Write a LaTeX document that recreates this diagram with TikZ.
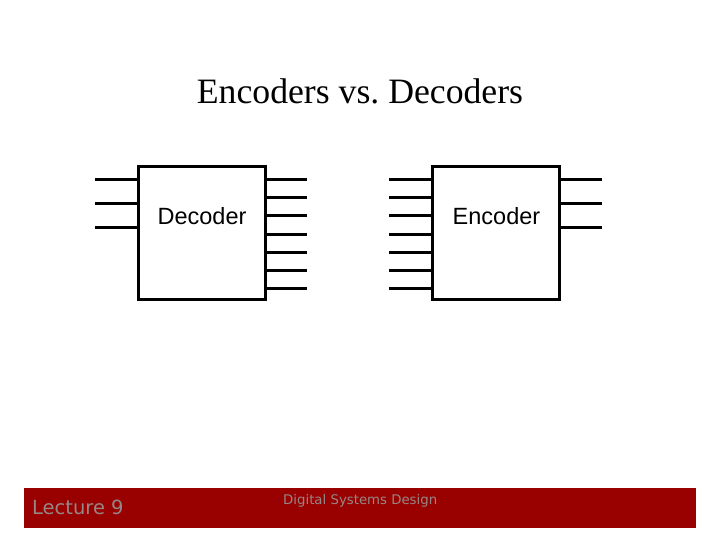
\documentclass[tikz,border=0pt]{standalone}
\usepackage{fontspec}
\setmainfont{Liberation Serif}
\newfontfamily\arialfont{Liberation Sans}
\newfontfamily\footfont{DejaVu Sans}
\definecolor{barred}{RGB}{153,0,0}
\definecolor{footgray}{RGB}{150,135,135}
\begin{document}
\begin{tikzpicture}[x=1pt,y=-1pt,
  blockbox/.style={draw=black,line width=3pt,fill=white,minimum width=127pt,minimum height=132pt,inner sep=0pt},
  pin/.style={draw=black,line width=3pt},
  blocklabel/.style={font=\arialfont\fontsize{23.5}{26}\selectfont,anchor=base,inner sep=0pt},
  foot/.style={text=footgray,inner sep=0pt,anchor=base west}]
\useasboundingbox (0,0) rectangle (720,540);
\fill[white] (0,0) rectangle (720,540);
\node[font=\fontsize{35.7}{40}\selectfont,anchor=base,inner sep=0pt] (title) at (360,104) {Encoders vs.\ Decoders};
% decoder
\node[blockbox] (dec) at (201.5,233) {};
\node[blocklabel] (declab) at (202,225) {Decoder};
\foreach \y in {180,204,228} \draw[pin] (dec.west |- 0,\y) -- ++(-42,0);
\foreach \y in {180,198,216,234,252,270,288} \draw[pin] (dec.east |- 0,\y) -- ++(40,0);
% encoder
\node[blockbox] (enc) at (495.5,233) {};
\node[blocklabel] (enclab) at (496.5,225) {Encoder};
\foreach \y in {180,198,216,234,252,270,288} \draw[pin] (enc.west |- 0,\y) -- ++(-42,0);
\foreach \y in {180,204,228} \draw[pin] (enc.east |- 0,\y) -- ++(41,0);
% footer
\fill[barred] (24,488) rectangle (696,528);
\node[foot,font=\footfont\fontsize{19.5}{22}\selectfont] (lect) at (32,514) {Lecture 9};
\node[foot,font=\footfont\fontsize{13.3}{15}\selectfont] (dsd) at (283,504) {Digital Systems Design};
\end{tikzpicture}
\end{document}
